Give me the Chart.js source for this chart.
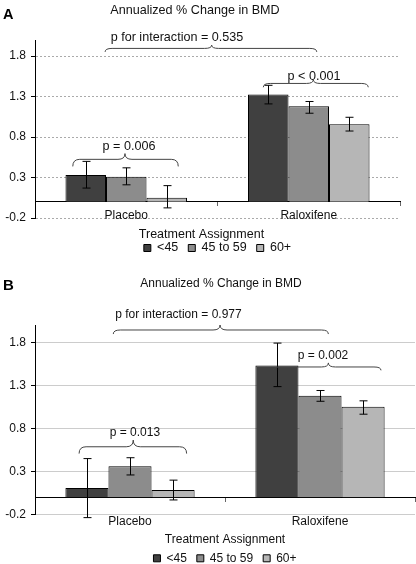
<!DOCTYPE html>
<html><head><meta charset="utf-8">
<script src="https://cdn.jsdelivr.net/npm/chart.js@4.4.1/dist/chart.umd.min.js"></script>
<style>
html,body{margin:0;padding:0;background:#fff;overflow:hidden;width:416px;height:564px;}
.wrap{position:absolute;left:0;width:416px;}
#wa{top:0;height:268px;}
#wb{top:262px;height:320px;}
</style></head><body>
<div class="wrap" id="wa"><canvas id="ca"></canvas></div>
<div class="wrap" id="wb"><canvas id="cb"></canvas></div>
<script>
// ---- data ----
const categories = ['Placebo', 'Raloxifene'];
const seriesNames = ['<45', '45 to 59', '60+'];
const yTicks = [-0.2, 0.3, 0.8, 1.3, 1.8];

// Panel A
const aLt45 = [0.33, 1.325];
const aLt45Lo = [0.17, 1.21];
const aLt45Hi = [0.50, 1.44];
const a45to59 = [0.31, 1.18];
const a45to59Lo = [0.21, 1.095];
const a45to59Hi = [0.42, 1.24];
const a60plus = [0.05, 0.96];
const a60plusLo = [-0.075, 0.875];
const a60plusHi = [0.20, 1.045];
const aPLabels = ['p for interaction = 0.535', 'p < 0.001', 'p = 0.006'];

// Panel B
const bLt45 = [0.11, 1.53];
const bLt45Lo = [-0.235, 1.285];
const bLt45Hi = [0.45, 1.79];
const b45to59 = [0.36, 1.18];
const b45to59Lo = [0.26, 1.115];
const b45to59Hi = [0.46, 1.24];
const b60plus = [0.085, 1.05];
const b60plusLo = [-0.03, 0.965];
const b60plusHi = [0.20, 1.12];
const bPLabels = ['p for interaction = 0.977', 'p = 0.002', 'p = 0.013'];

const barColors = ['#404040', '#8c8c8c', '#b6b6b6'];
const FONT = "'Liberation Sans', Arial, sans-serif";

// brace geometry in scale units (x: category index, y: value)
const aBraces = [
  {x0: -0.116, x1: 1.044, xt: 0.468, yEnd: 1.853, yLine: 1.896, yTip: 1.937, tx: 0.278, ty: 2.025},
  {x0: 0.751, x1: 1.326, xt: 1.025, yEnd: 1.416, yLine: 1.463, yTip: 1.510, tx: 1.029, ty: 1.554},
  {x0: -0.293, x1: 0.285, xt: -0.007, yEnd: 0.4375, yLine: 0.525, yTip: 0.596, tx: 0.015, ty: 0.686}
];
const bBraces = [
  {x0: -0.088, x1: 1.044, xt: 0.474, yEnd: 1.895, yLine: 1.942, yTip: 2.0, tx: 0.255, ty: 2.117},
  {x0: 0.754, x1: 1.321, xt: 1.044, yEnd: 1.474, yLine: 1.513, yTip: 1.560, tx: 1.016, ty: 1.644},
  {x0: -0.268, x1: 0.298, xt: 0.017, yEnd: 0.508, yLine: 0.587, yTip: 0.665, tx: 0.026, ty: 0.750}
];

// ---- plugins ----
const errorBars = {
  id: 'errorBars',
  afterDatasetsDraw(chart) {
    const ctx = chart.ctx, y = chart.scales.y;
    ctx.save();
    ctx.strokeStyle = '#000';
    ctx.lineWidth = 1;
    chart.data.datasets.forEach((ds, d) => {
      const meta = chart.getDatasetMeta(d);
      meta.data.forEach((bar, i) => {
        const x = Math.round(bar.x) + 0.5;
        const yl = y.getPixelForValue(ds.errLo[i]);
        const yh = y.getPixelForValue(ds.errHi[i]);
        const c = 4;
        ctx.beginPath();
        ctx.moveTo(x, yl); ctx.lineTo(x, yh);
        ctx.moveTo(x - c, yl); ctx.lineTo(x + c, yl);
        ctx.moveTo(x - c, yh); ctx.lineTo(x + c, yh);
        ctx.stroke();
      });
    });
    ctx.restore();
  }
};

const braces = {
  id: 'braces',
  afterDraw(chart, args, opts) {
    const ctx = chart.ctx, xs = chart.scales.x, ys = chart.scales.y;
    ctx.save();
    ctx.strokeStyle = '#444';
    ctx.lineWidth = 1;
    ctx.fillStyle = '#111';
    ctx.font = opts.fontSize + 'px ' + FONT;
    ctx.textAlign = 'center';
    ctx.textBaseline = 'middle';
    opts.items.forEach((b, k) => {
      const x0 = xs.getPixelForValue(b.x0), x1 = xs.getPixelForValue(b.x1), xt = xs.getPixelForValue(b.xt);
      const ye = ys.getPixelForValue(b.yEnd), yl = ys.getPixelForValue(b.yLine), yt = ys.getPixelForValue(b.yTip);
      const r = 7;
      ctx.beginPath();
      ctx.moveTo(x0, ye);
      ctx.quadraticCurveTo(x0, yl, x0 + r, yl);
      ctx.lineTo(xt - r, yl);
      ctx.quadraticCurveTo(xt, yl, xt, yt);
      ctx.quadraticCurveTo(xt, yl, xt + r, yl);
      ctx.lineTo(x1 - r, yl);
      ctx.quadraticCurveTo(x1, yl, x1, ye);
      ctx.stroke();
      ctx.fillText(opts.labels[k], xs.getPixelForValue(b.tx), ys.getPixelForValue(b.ty));
    });
    ctx.restore();
  }
};

const header = {
  id: 'header',
  afterDraw(chart, args, opts) {
    const ctx = chart.ctx;
    ctx.save();
    ctx.fillStyle = '#000';
    ctx.textBaseline = 'middle';
    ctx.textAlign = 'left';
    ctx.font = 'bold ' + opts.letterSize + 'px ' + FONT;
    ctx.fillText(opts.letter, opts.letterX, opts.letterY);
    ctx.textAlign = 'center';
    ctx.fillStyle = '#111';
    ctx.font = opts.titleSize + 'px ' + FONT;
    ctx.fillText(opts.title, opts.titleX, opts.titleY);
    ctx.restore();
  }
};

function makeDatasets(vals, los, his, pct) {
  return vals.map((v, i) => ({
    label: seriesNames[i],
    data: v,
    errLo: los[i],
    errHi: his[i],
    backgroundColor: barColors[i],
    borderColor: '#000',
    borderWidth: 1,
    categoryPercentage: pct,
    barPercentage: 1.0
  }));
}

function makeChart(canvasId, cfg) {
  return new Chart(document.getElementById(canvasId), {
    type: 'bar',
    data: {
      labels: categories,
      datasets: makeDatasets(cfg.vals, cfg.los, cfg.his, cfg.pct)
    },
    plugins: [errorBars, braces, header],
    options: {
      responsive: true,
      maintainAspectRatio: false,
      animation: false,
      layout: {padding: cfg.padding},
      scales: {
        x: {
          type: 'category',
          position: {y: 0},
          offset: true,
          grid: {display: true, drawOnChartArea: false, drawTicks: true, tickLength: 4, tickColor: '#666', offset: true},
          border: {display: true, color: '#000', width: 1},
          ticks: {color: '#111', font: {family: FONT, size: 12}, padding: cfg.xPad}
        },
        y: {
          min: -0.2,
          max: 2.0,
          afterBuildTicks: (s) => { s.ticks = yTicks.map(v => ({value: v})); },
          afterFit: (s) => { s.width = 35; },
          grid: {color: cfg.gridColor, lineWidth: 1, tickLength: 4, tickColor: '#000', tickBorderDash: []},
          border: {display: true, color: '#000', width: 1, dash: cfg.gridDash},
          ticks: {color: '#111', font: {family: FONT, size: 12}, padding: 5, callback: (v) => v.toFixed(1)}
        }
      },
      plugins: {
        tooltip: {enabled: false},
        legend: {
          display: true,
          position: 'bottom',
          fullSize: false,
          labels: {boxWidth: 7, boxHeight: 7, padding: 10, color: '#111', font: {family: FONT, size: cfg.legFont}},
          title: {display: true, text: 'Treatment Assignment', position: cfg.legTitlePos, color: '#111', font: {family: FONT, size: cfg.legFont}, padding: cfg.legTitlePad}
        },
        braces: {items: cfg.braces, labels: cfg.pLabels, fontSize: cfg.pFont},
        header: cfg.header
      }
    }
  });
}

makeChart('ca', {
  vals: [aLt45, a45to59, a60plus],
  los: [aLt45Lo, a45to59Lo, a60plusLo],
  his: [aLt45Hi, a45to59Hi, a60plusHi],
  pct: 0.666,
  padding: {top: 40, right: 16, bottom: 3.75, left: 0},
  xPad: 3,
  gridColor: '#aaa',
  gridDash: [2, 2],
  legFont: 12.5,
  legTitlePos: 'start',
  legTitlePad: {top: 10.75, bottom: -12},
  pFont: 12.6,
  braces: aBraces,
  pLabels: aPLabels,
  header: {letter: 'A', letterSize: 14.5, letterX: 3, letterY: 14.5, title: 'Annualized % Change in BMD', titleSize: 12.6, titleX: 195, titleY: 11}
});

makeChart('cb', {
  vals: [bLt45, b45to59, b60plus],
  los: [bLt45Lo, b45to59Lo, b60plusLo],
  his: [bLt45Hi, b45to59Hi, b60plusHi],
  pct: 0.68,
  padding: {top: 63, right: 1, bottom: 7.7, left: 0},
  xPad: 13,
  gridColor: '#ccc',
  gridDash: [],
  legFont: 12,
  legTitlePos: 'center',
  legTitlePad: {top: 18.7, bottom: -5.4},
  pFont: 12,
  braces: bBraces,
  pLabels: bPLabels,
  header: {letter: 'B', letterSize: 15, letterX: 3, letterY: 23.5, title: 'Annualized % Change in BMD', titleSize: 12, titleX: 221, titleY: 22}
});
</script>
</body></html>
